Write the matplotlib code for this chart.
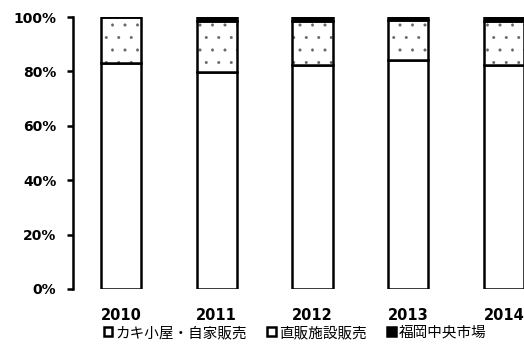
import matplotlib.pyplot as plt
from matplotlib.patches import Patch
from matplotlib.backend_bases import GraphicsContextBase
import numpy as np

years = ['2010', '2011', '2012', '2013', '2014']
kaki_goya = [83.2, 79.8, 82.2, 84.2, 82.2]
chokuhan = [16.8, 18.9, 16.3, 14.8, 16.3]
fukuoka = [0.0, 1.3, 1.5, 1.0, 1.5]
labels = ['カキ小屋・自家販売', '直販施設販売', '福岡中央市場']

plt.rcParams['font.family'] = ['DejaVu Sans']
plt.rcParams['hatch.linewidth'] = 0.3

# sparser dot pattern than the stock '..' hatch
_orig_hatch_path = GraphicsContextBase.get_hatch_path
GraphicsContextBase.get_hatch_path = lambda self, density=8: _orig_hatch_path(self, density)

fig = plt.figure(figsize=(5.24, 3.49), dpi=100)
ax = fig.add_axes([0.1393, 0.172, 0.914, 0.779])

x = np.arange(len(years))
w = 0.42
lw = 1.8
kaki = np.array(kaki_goya)
chok = np.array(chokuhan)
ax.bar(x, kaki, w, color='white', edgecolor='black', linewidth=lw)
# dotted fill (grey dots), then black outline on top
ax.bar(x, chok, w, bottom=kaki, color='white', edgecolor='#666666',
       linewidth=0, hatch='.')
ax.bar(x, chok, w, bottom=kaki, fill=False, edgecolor='black', linewidth=lw)
ax.bar(x, fukuoka, w, bottom=kaki + chok, color='black', edgecolor='black',
       linewidth=lw)

ax.set_xlim(-0.5, 4.5)
ax.set_ylim(0, 100)
ax.set_yticks([0, 20, 40, 60, 80, 100])
ax.set_yticklabels(['0%', '20%', '40%', '60%', '80%', '100%'],
                   fontweight='bold', fontsize=10)
ax.set_xticks(x)
ax.set_xticklabels(years, fontweight='bold', fontsize=10.5)
ax.tick_params(axis='x', length=0, pad=14)
ax.tick_params(axis='y', length=4, width=1.8, pad=8)
for s in ['top', 'right', 'bottom']:
    ax.spines[s].set_visible(False)
ax.spines['left'].set_linewidth(1.8)

handles = [Patch(facecolor='white', edgecolor='black', linewidth=1.8),
           Patch(facecolor='white', edgecolor='black', linewidth=1.8),
           Patch(facecolor='black', edgecolor='black', linewidth=1.8)]
fig.legend(handles, labels, loc='center', bbox_to_anchor=(0.563, 0.046),
           ncol=3, frameon=False, prop={'family': 'Noto Sans CJK JP', 'size': 10.5},
           handlelength=0.6, handleheight=0.6, handletextpad=0.2,
           columnspacing=1.4)

fig.savefig('out.png', dpi=100)
